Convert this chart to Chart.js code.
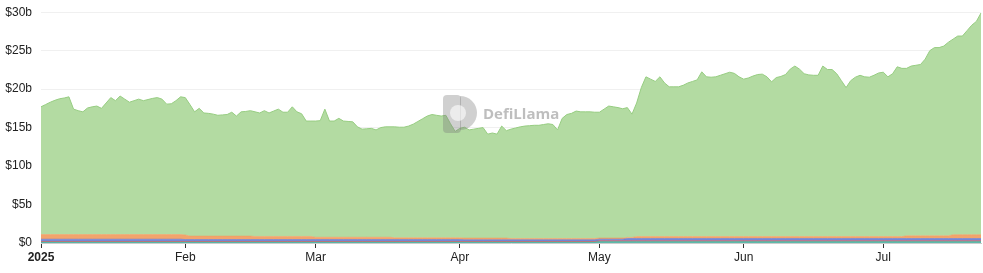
<!DOCTYPE html>
<html>
<head>
<meta charset="utf-8">
<script src="https://cdn.jsdelivr.net/npm/chart.js@4.4.1/dist/chart.umd.min.js"></script>
<style>
	html, body { margin: 0; padding: 0; background: #fff; }
	.chart-wrap { position: relative; width: 983px; height: 273px; }
</style>
</head>
<body>
<div class="chart-wrap"><canvas id="chart"></canvas></div>
<script>
"use strict";

// daily values, 2025-01-01 .. 2025-07-22, in $ billions
const greenTvl = [
	16.6,16.9,17.2,17.45,17.65,17.75,17.9,16.3,16.1,15.95,
	16.45,16.6,16.7,16.4,17.1,17.8,17.4,18.0,17.6,17.2,
	17.4,17.6,17.4,17.55,17.7,17.8,17.6,16.95,17.0,17.4,
	17.9,17.85,17.1,16.15,16.6,16.0,15.95,15.85,15.7,15.75,
	15.8,16.1,15.6,16.15,16.2,16.3,16.2,16.05,16.35,16.05,
	16.3,16.55,16.15,16.15,16.85,16.2,15.95,15.0,15.0,15.1,
	15.15,16.65,15.1,15.1,15.45,15.1,15.05,15.0,14.35,14.05,
	14.1,14.15,13.95,14.25,14.35,14.35,14.43,14.38,14.38,14.53,
	14.78,15.13,15.48,15.83,16.03,15.93,15.83,15.93,14.83,13.83,
	14.23,14.41,14.06,14.16,14.26,14.36,13.51,13.66,13.51,14.56,
	13.96,14.23,14.38,14.53,14.63,14.68,14.73,14.73,14.83,14.93,
	14.83,14.13,15.63,16.13,16.28,16.58,16.48,16.48,16.48,16.43,
	16.35,16.75,17.15,17.05,16.95,16.8,16.87,16.02,17.37,19.37,
	20.77,20.47,20.17,20.77,19.97,19.47,19.47,19.47,19.67,19.97,
	20.17,20.37,21.42,20.77,20.72,20.77,20.97,21.17,21.37,21.22,
	20.77,20.47,20.62,20.87,21.07,21.12,20.77,20.12,20.67,20.82,
	21.07,21.77,22.17,21.77,21.17,21.02,20.97,20.97,22.17,21.72,
	21.72,21.17,20.27,19.37,20.27,20.72,20.97,20.77,20.72,20.97,
	21.27,21.37,20.77,21.17,22.07,21.87,21.77,22.07,22.17,22.27,
	22.97,24.07,24.47,24.47,24.67,25.17,25.42,25.82,25.82,26.52,
	27.22,27.72,28.82
];

const tealTvl = [
	0.12,0.12,0.12,0.12,0.12,0.12,0.12,0.12,0.12,0.12,
	0.12,0.12,0.12,0.12,0.12,0.12,0.12,0.12,0.12,0.12,
	0.12,0.12,0.12,0.12,0.12,0.12,0.12,0.12,0.12,0.12,
	0.12,0.12,0.12,0.12,0.12,0.12,0.12,0.12,0.12,0.12,
	0.12,0.12,0.12,0.12,0.12,0.12,0.12,0.12,0.12,0.12,
	0.12,0.12,0.12,0.12,0.12,0.12,0.12,0.12,0.12,0.12,
	0.12,0.12,0.12,0.12,0.12,0.12,0.12,0.12,0.12,0.12,
	0.12,0.12,0.12,0.12,0.12,0.12,0.12,0.12,0.12,0.12,
	0.12,0.12,0.12,0.12,0.12,0.12,0.12,0.12,0.12,0.12,
	0.12,0.12,0.12,0.12,0.12,0.12,0.12,0.12,0.12,0.12,
	0.12,0.12,0.12,0.12,0.12,0.12,0.12,0.12,0.12,0.12,
	0.12,0.12,0.12,0.12,0.12,0.12,0.12,0.12,0.12,0.12,
	0.2,0.2,0.2,0.2,0.2,0.2,0.2,0.2,0.2,0.2,
	0.2,0.2,0.2,0.2,0.2,0.2,0.2,0.2,0.2,0.2,
	0.2,0.2,0.2,0.2,0.2,0.2,0.2,0.2,0.2,0.2,
	0.2,0.2,0.2,0.2,0.2,0.2,0.2,0.2,0.2,0.2,
	0.2,0.2,0.2,0.2,0.2,0.2,0.2,0.2,0.2,0.2,
	0.2,0.2,0.2,0.2,0.2,0.2,0.2,0.2,0.2,0.2,
	0.2,0.2,0.2,0.2,0.2,0.2,0.2,0.2,0.2,0.2,
	0.2,0.2,0.2,0.2,0.2,0.2,0.2,0.2,0.2,0.2,
	0.2,0.2,0.2
];

const redTvl = [
	0.08,0.08,0.08,0.08,0.08,0.08,0.08,0.08,0.08,0.08,
	0.08,0.08,0.08,0.08,0.08,0.08,0.08,0.08,0.08,0.08,
	0.08,0.08,0.08,0.08,0.08,0.08,0.08,0.08,0.08,0.08,
	0.08,0.08,0.08,0.08,0.08,0.08,0.08,0.08,0.08,0.08,
	0.08,0.08,0.08,0.08,0.08,0.08,0.08,0.08,0.08,0.08,
	0.08,0.08,0.08,0.08,0.08,0.08,0.08,0.08,0.08,0.08,
	0.08,0.08,0.08,0.08,0.08,0.08,0.08,0.08,0.08,0.08,
	0.08,0.08,0.08,0.08,0.08,0.08,0.08,0.08,0.08,0.08,
	0.08,0.08,0.08,0.08,0.08,0.08,0.08,0.08,0.08,0.08,
	0.08,0.08,0.08,0.08,0.08,0.08,0.08,0.08,0.08,0.08,
	0.08,0.08,0.08,0.08,0.08,0.08,0.08,0.08,0.08,0.08,
	0.08,0.08,0.08,0.08,0.08,0.08,0.08,0.08,0.08,0.08,
	0.08,0.08,0.08,0.08,0.08,0.08,0.08,0.08,0.08,0.08,
	0.08,0.08,0.08,0.08,0.08,0.08,0.08,0.08,0.08,0.08,
	0.08,0.08,0.08,0.08,0.08,0.08,0.08,0.08,0.08,0.08,
	0.08,0.08,0.08,0.08,0.08,0.08,0.08,0.08,0.08,0.08,
	0.08,0.08,0.08,0.08,0.08,0.08,0.08,0.08,0.08,0.08,
	0.08,0.08,0.08,0.08,0.08,0.08,0.08,0.08,0.08,0.08,
	0.08,0.08,0.08,0.08,0.08,0.08,0.08,0.08,0.08,0.08,
	0.08,0.08,0.08,0.08,0.08,0.08,0.08,0.08,0.08,0.08,
	0.08,0.08,0.08
];

const blueTvl = [
	0.3,0.3,0.3,0.3,0.3,0.3,0.3,0.3,0.3,0.3,
	0.3,0.3,0.3,0.3,0.3,0.3,0.3,0.3,0.3,0.3,
	0.3,0.3,0.3,0.3,0.3,0.3,0.3,0.3,0.3,0.3,
	0.3,0.25,0.25,0.25,0.25,0.25,0.25,0.25,0.25,0.25,
	0.25,0.25,0.25,0.25,0.25,0.25,0.25,0.25,0.25,0.25,
	0.25,0.25,0.25,0.25,0.25,0.25,0.25,0.25,0.25,0.25,
	0.25,0.25,0.25,0.25,0.25,0.25,0.25,0.25,0.25,0.25,
	0.25,0.25,0.25,0.25,0.25,0.25,0.25,0.25,0.25,0.25,
	0.25,0.25,0.25,0.25,0.25,0.25,0.25,0.25,0.25,0.25,
	0.25,0.22,0.22,0.22,0.22,0.22,0.22,0.22,0.22,0.22,
	0.22,0.22,0.22,0.22,0.22,0.22,0.22,0.22,0.22,0.22,
	0.22,0.22,0.22,0.22,0.22,0.22,0.22,0.22,0.22,0.22,
	0.22,0.22,0.22,0.22,0.22,0.22,0.3,0.3,0.3,0.3,
	0.3,0.3,0.3,0.3,0.3,0.3,0.3,0.3,0.3,0.3,
	0.3,0.3,0.3,0.3,0.3,0.3,0.3,0.3,0.3,0.3,
	0.3,0.3,0.3,0.3,0.3,0.3,0.3,0.3,0.3,0.3,
	0.3,0.3,0.3,0.3,0.3,0.3,0.3,0.3,0.3,0.3,
	0.3,0.3,0.3,0.3,0.3,0.3,0.3,0.3,0.3,0.3,
	0.3,0.3,0.3,0.3,0.3,0.3,0.3,0.3,0.3,0.3,
	0.3,0.3,0.3,0.3,0.3,0.3,0.3,0.3,0.3,0.3,
	0.3,0.3,0.3
];

const orangeTvl = [
	0.6,0.6,0.6,0.6,0.6,0.6,0.6,0.6,0.6,0.6,
	0.6,0.6,0.6,0.6,0.6,0.6,0.6,0.6,0.6,0.6,
	0.6,0.6,0.6,0.6,0.6,0.6,0.6,0.6,0.6,0.6,
	0.6,0.6,0.45,0.45,0.45,0.45,0.45,0.45,0.45,0.45,
	0.45,0.45,0.45,0.45,0.45,0.45,0.4,0.4,0.4,0.4,
	0.4,0.4,0.4,0.4,0.4,0.4,0.4,0.4,0.4,0.3,
	0.3,0.3,0.3,0.3,0.3,0.3,0.3,0.3,0.3,0.3,
	0.3,0.3,0.3,0.3,0.3,0.3,0.22,0.22,0.22,0.22,
	0.22,0.22,0.22,0.22,0.22,0.22,0.22,0.22,0.22,0.22,
	0.22,0.22,0.22,0.22,0.22,0.22,0.22,0.22,0.22,0.22,
	0.22,0.15,0.15,0.15,0.15,0.15,0.15,0.15,0.15,0.15,
	0.15,0.15,0.15,0.15,0.15,0.15,0.15,0.15,0.15,0.15,
	0.15,0.15,0.15,0.15,0.15,0.15,0.15,0.15,0.25,0.25,
	0.25,0.25,0.25,0.25,0.25,0.25,0.25,0.25,0.25,0.25,
	0.25,0.25,0.25,0.25,0.25,0.25,0.25,0.25,0.25,0.25,
	0.25,0.25,0.25,0.25,0.25,0.25,0.25,0.25,0.25,0.25,
	0.25,0.25,0.25,0.25,0.25,0.25,0.25,0.25,0.25,0.25,
	0.25,0.25,0.25,0.25,0.25,0.25,0.25,0.25,0.25,0.25,
	0.25,0.25,0.25,0.25,0.25,0.25,0.35,0.35,0.35,0.35,
	0.35,0.35,0.35,0.35,0.35,0.35,0.5,0.5,0.5,0.5,
	0.5,0.5,0.5
];

const monthTicks = ['2025', 'Feb', 'Mar', 'Apr', 'May', 'Jun', 'Jul'];
const yTicks = [0, 5, 10, 15, 20, 25, 30];

// categories: one label per day
const startDate = Date.UTC(2025, 0, 1);
const days = greenTvl.map((v, i) => new Date(startDate + i * 86400000));
const labels = days.map(d => d.toISOString().slice(0, 10));
const monthStartIdx = [];
days.forEach((d, i) => { if (d.getUTCDate() === 1) monthStartIdx.push(i); });


function eventHandler() {

	const fontFamily = '"Liberation Sans", Arial, sans-serif';

	const layers = [
		{ label: 'Teal', data: tealTvl, color: '#3fae9c', fill: 'rgba(63,174,156,0.85)' },
		{ label: 'Red', data: redTvl, color: '#e2413a', fill: 'rgba(226,65,58,0.85)' },
		{ label: 'Blue', data: blueTvl, color: '#5a72d2', fill: 'rgba(90,114,210,0.85)' },
		{ label: 'Orange', data: orangeTvl, color: '#f19a5c', fill: 'rgba(241,154,92,0.9)' },
		{ label: 'Green', data: greenTvl, color: '#97cd82', fill: '#b3dba2' },
	];

	const watermark = {
		id: 'watermark',
		afterDatasetsDraw(chart) {
			const ctx = chart.ctx;
			ctx.save();
			// logo badge
			ctx.fillStyle = 'rgba(120,120,120,0.35)';
			ctx.beginPath();
			ctx.roundRect(443, 95, 18, 38, 4);
			ctx.fill();
			ctx.beginPath();
			ctx.arc(460, 113, 17, -Math.PI / 2, Math.PI / 2);
			ctx.fill();
			ctx.fillStyle = 'rgba(255,255,255,0.6)';
			ctx.beginPath();
			ctx.arc(458, 113, 8, 0, Math.PI * 2);
			ctx.fill();
			// text
			ctx.fillStyle = 'rgba(110,110,110,0.45)';
			ctx.font = 'bold 15px "Open Sans", "Liberation Sans", sans-serif';
			ctx.textBaseline = 'middle';
			ctx.fillText('DefiLlama', 483, 115);
			ctx.restore();
		}
	};

	new Chart(document.getElementById('chart'), {
		type: 'line',
		data: {
			labels: labels,
			datasets: layers.map((l, i) => ({
				label: l.label,
				data: l.data,
				borderColor: l.color,
				backgroundColor: l.fill,
				borderWidth: i === layers.length - 1 ? 1 : 0.5,
				pointRadius: 0,
				tension: 0,
				fill: i === 0 ? 'origin' : '-1',
			})),
		},
		options: {
			responsive: true,
			maintainAspectRatio: false,
			animation: false,
			events: [],
			layout: { padding: { top: 0, right: 2, left: 0, bottom: 0 } },
			plugins: {
				legend: { display: false },
				tooltip: { enabled: false },
			},
			scales: {
				x: {
					grid: {
						drawOnChartArea: false,
						drawTicks: true,
						tickLength: 5,
						color: '#333',
					},
					border: { color: '#ccc', width: 1 },
					afterBuildTicks: (scale) => {
						scale.ticks = scale.ticks.filter(t => monthStartIdx.includes(t.value));
					},
					afterFit: (scale) => { scale.height = 30; },
					ticks: {
						autoSkip: false,
						maxRotation: 0,
						padding: 2,
						color: '#222',
						font: (c) => ({ family: fontFamily, size: 12, weight: c.index === 0 ? 'bold' : 'normal' }),
						callback: (v) => monthTicks[monthStartIdx.indexOf(v)],
					},
				},
				y: {
					stacked: true,
					min: 0,
					max: 30,
					afterBuildTicks: (scale) => {
						scale.ticks = yTicks.map(v => ({ value: v }));
					},
					afterFit: (scale) => { scale.width = 41; },
					// ticks.padding also pads the top of the plot, so the gap is made with an invisible tick mark
					grid: { color: '#f0f0f0', drawTicks: true, tickLength: 4, tickColor: 'rgba(0,0,0,0)' },
					border: { display: false },
					ticks: {
						padding: 5,
						color: '#222',
						font: { family: fontFamily, size: 12 },
						callback: (v) => v === 0 ? '$0' : '$' + v + 'b',
					},
				},
			},
		},
		plugins: [watermark],
	});
};
if (document.readyState !== 'loading') {
	eventHandler();
} else {
	document.addEventListener('DOMContentLoaded', eventHandler);
}
</script>
</body>
</html>
